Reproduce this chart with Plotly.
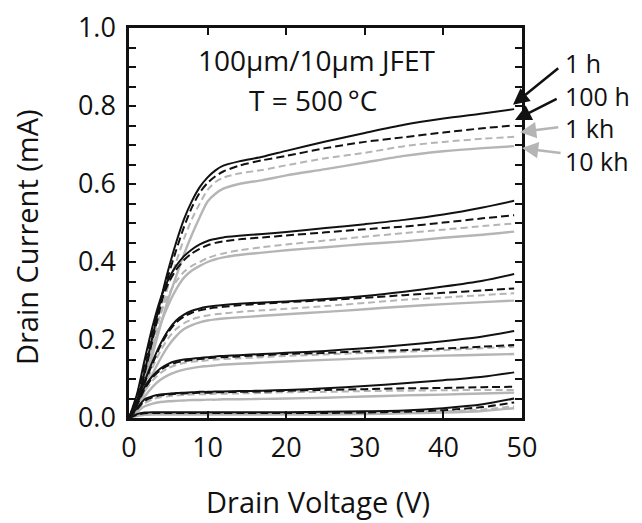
import plotly.graph_objects as go

# Drain voltage sample points (V)
vd = [0, 1, 2, 3, 4, 5, 6, 7, 8, 9, 10, 11, 12, 14, 17, 20, 25, 30, 35, 40, 45, 49]

# Drain current (mA): 6 gate-bias curves per aging time
i_1h = [
    [0, 0.04, 0.12, 0.21, 0.30, 0.38, 0.45, 0.51, 0.556, 0.592, 0.617, 0.635, 0.647, 0.658, 0.670, 0.685, 0.709, 0.731, 0.752, 0.768, 0.781, 0.792],
    [0, 0.06, 0.15, 0.235, 0.305, 0.355, 0.39, 0.415, 0.432, 0.445, 0.454, 0.459, 0.463, 0.467, 0.472, 0.477, 0.487, 0.497, 0.508, 0.522, 0.54, 0.557],
    [0, 0.045, 0.095, 0.145, 0.19, 0.225, 0.25, 0.265, 0.275, 0.281, 0.285, 0.288, 0.29, 0.293, 0.296, 0.299, 0.305, 0.313, 0.324, 0.337, 0.352, 0.369],
    [0, 0.035, 0.08, 0.108, 0.127, 0.139, 0.146, 0.15, 0.152, 0.154, 0.156, 0.158, 0.159, 0.161, 0.164, 0.167, 0.172, 0.179, 0.187, 0.197, 0.209, 0.223],
    [0, 0.025, 0.048, 0.056, 0.06, 0.062, 0.064, 0.065, 0.066, 0.067, 0.067, 0.068, 0.068, 0.069, 0.07, 0.072, 0.076, 0.082, 0.089, 0.097, 0.106, 0.117],
    [0, 0.01, 0.014, 0.015, 0.015, 0.015, 0.015, 0.015, 0.015, 0.015, 0.015, 0.015, 0.015, 0.015, 0.015, 0.015, 0.016, 0.017, 0.019, 0.025, 0.035, 0.05],
]
i_100h = [
    [0, 0.038, 0.115, 0.2, 0.285, 0.365, 0.43, 0.49, 0.54, 0.578, 0.603, 0.62, 0.632, 0.647, 0.661, 0.672, 0.692, 0.708, 0.72, 0.732, 0.743, 0.75],
    [0, 0.055, 0.14, 0.225, 0.295, 0.345, 0.38, 0.405, 0.422, 0.434, 0.443, 0.449, 0.453, 0.458, 0.463, 0.468, 0.476, 0.484, 0.491, 0.501, 0.512, 0.52],
    [0, 0.042, 0.09, 0.14, 0.185, 0.22, 0.245, 0.26, 0.27, 0.276, 0.28, 0.283, 0.285, 0.289, 0.293, 0.297, 0.302, 0.308, 0.315, 0.321, 0.327, 0.332],
    [0, 0.032, 0.075, 0.104, 0.123, 0.135, 0.142, 0.146, 0.149, 0.151, 0.153, 0.155, 0.156, 0.158, 0.161, 0.164, 0.167, 0.171, 0.174, 0.178, 0.183, 0.187],
    [0, 0.022, 0.044, 0.053, 0.058, 0.06, 0.062, 0.063, 0.064, 0.065, 0.065, 0.066, 0.066, 0.067, 0.068, 0.07, 0.072, 0.074, 0.076, 0.077, 0.079, 0.08],
    [0, 0.008, 0.012, 0.013, 0.013, 0.013, 0.013, 0.013, 0.013, 0.013, 0.013, 0.013, 0.013, 0.013, 0.013, 0.013, 0.013, 0.014, 0.016, 0.02, 0.028, 0.04],
]
i_1kh = [
    [0, 0.035, 0.105, 0.185, 0.265, 0.34, 0.40, 0.46, 0.51, 0.55, 0.585, 0.605, 0.616, 0.627, 0.636, 0.648, 0.666, 0.68, 0.697, 0.708, 0.716, 0.721],
    [0, 0.05, 0.125, 0.2, 0.265, 0.315, 0.35, 0.375, 0.39, 0.40, 0.41, 0.417, 0.422, 0.43, 0.438, 0.445, 0.455, 0.465, 0.474, 0.483, 0.492, 0.499],
    [0, 0.038, 0.083, 0.13, 0.172, 0.205, 0.228, 0.243, 0.253, 0.259, 0.263, 0.266, 0.268, 0.272, 0.276, 0.28, 0.287, 0.295, 0.303, 0.309, 0.315, 0.32],
    [0, 0.028, 0.068, 0.096, 0.115, 0.128, 0.136, 0.141, 0.144, 0.146, 0.148, 0.15, 0.151, 0.153, 0.156, 0.159, 0.163, 0.167, 0.17, 0.174, 0.179, 0.183],
    [0, 0.02, 0.038, 0.048, 0.053, 0.056, 0.058, 0.059, 0.06, 0.061, 0.061, 0.062, 0.062, 0.063, 0.064, 0.066, 0.067, 0.069, 0.07, 0.071, 0.072, 0.072],
    [0, 0.007, 0.01, 0.011, 0.011, 0.011, 0.011, 0.011, 0.011, 0.011, 0.011, 0.011, 0.011, 0.011, 0.011, 0.011, 0.011, 0.012, 0.014, 0.017, 0.022, 0.03],
]
i_10kh = [
    [0, 0.03, 0.09, 0.163, 0.237, 0.305, 0.363, 0.42, 0.47, 0.515, 0.555, 0.575, 0.588, 0.600, 0.610, 0.622, 0.638, 0.655, 0.672, 0.684, 0.692, 0.697],
    [0, 0.04, 0.105, 0.175, 0.24, 0.29, 0.33, 0.36, 0.378, 0.39, 0.4, 0.407, 0.412, 0.418, 0.424, 0.43, 0.438, 0.446, 0.453, 0.462, 0.47, 0.478],
    [0, 0.03, 0.07, 0.113, 0.152, 0.185, 0.21, 0.228, 0.238, 0.245, 0.25, 0.253, 0.255, 0.258, 0.262, 0.266, 0.272, 0.279, 0.286, 0.292, 0.297, 0.301],
    [0, 0.022, 0.055, 0.08, 0.098, 0.11, 0.118, 0.124, 0.128, 0.131, 0.133, 0.135, 0.137, 0.139, 0.142, 0.145, 0.149, 0.153, 0.157, 0.16, 0.162, 0.164],
    [0, 0.015, 0.03, 0.037, 0.041, 0.043, 0.044, 0.045, 0.046, 0.046, 0.047, 0.047, 0.048, 0.048, 0.049, 0.05, 0.052, 0.055, 0.058, 0.06, 0.063, 0.065],
    [0, 0.005, 0.008, 0.009, 0.009, 0.009, 0.009, 0.009, 0.009, 0.009, 0.009, 0.009, 0.009, 0.009, 0.009, 0.009, 0.009, 0.01, 0.012, 0.014, 0.018, 0.025],
]

series_labels = ["1 h", "100 h", "1 kh", "10 kh"]
x_ticks = [0, 10, 20, 30, 40, 50]
y_ticks = [0.0, 0.2, 0.4, 0.6, 0.8, 1.0]

BLACK = "#111111"
GRAY = "#b5b5b5"
FONT = "Open Sans"
FS = 27

styles = {
    "10 kh": dict(color=GRAY, width=2.4, dash="solid"),
    "1 kh": dict(color=GRAY, width=2.0, dash="7px,4px"),
    "100 h": dict(color=BLACK, width=2.0, dash="8px,4px"),
    "1 h": dict(color=BLACK, width=2.0, dash="solid"),
}
data_by_label = {"1 h": i_1h, "100 h": i_100h, "1 kh": i_1kh, "10 kh": i_10kh}

fig = go.Figure()
for lab in ["10 kh", "1 kh", "100 h", "1 h"]:
    for curve in data_by_label[lab]:
        fig.add_trace(go.Scatter(
            x=vd, y=curve, mode="lines",
            line=dict(shape="spline", smoothing=0.7, **styles[lab]),
            showlegend=False, hoverinfo="skip",
        ))

# arrows (heads at curve ends, tails beyond plot on the right)
arrow_specs = [
    (BLACK, 48.85, 0.803, 54.8, 0.90),
    (BLACK, 49.1, 0.764, 54.6, 0.82),
    (GRAY, 49.75, 0.733, 54.8, 0.746),
    (GRAY, 50.0, 0.692, 55.1, 0.679),
]
for col, hx, hy, tx, ty in arrow_specs:
    fig.add_annotation(x=hx, y=hy, ax=tx, ay=ty, xref="x", yref="y", axref="x", ayref="y",
                       showarrow=True, arrowhead=2, arrowsize=1.3, arrowwidth=2.5,
                       arrowcolor=col, text="")

# stacked aging-time labels as one text block
fig.add_annotation(x=1.108, y=0.785, xref="paper", yref="paper",
                   text="<br>".join(series_labels), showarrow=False,
                   xanchor="left", yanchor="middle", align="left", borderpad=0,
                   font=dict(family=FONT, size=25, color="#111111"))

fig.add_annotation(x=0.478, y=0.918, xref="paper", yref="paper", text="100\u03bcm/10\u03bcm JFET",
                   showarrow=False, xanchor="center", yanchor="middle",
                   font=dict(family=FONT, size=28, color="#111111"))
fig.add_annotation(x=0.468, y=0.815, xref="paper", yref="paper", text="T = 500\u2009\u00b0C",
                   showarrow=False, xanchor="center", yanchor="middle",
                   font=dict(family=FONT, size=28, color="#111111"))

# axis titles
fig.add_annotation(x=0.48, y=-0.213, xref="paper", yref="paper", text="Drain Voltage (V)",
                   showarrow=False, xanchor="center", yanchor="middle",
                   font=dict(family=FONT, size=29, color="#111111"))
fig.add_annotation(x=-0.262, y=0.464, xref="paper", yref="paper", text="Drain Current (mA)",
                   showarrow=False, textangle=-90, xanchor="center", yanchor="middle",
                   font=dict(family=FONT, size=29, color="#111111"))

fig.update_layout(
    width=634, height=515,
    margin=dict(l=121, r=120, t=20, b=105, autoexpand=False),
    paper_bgcolor="white", plot_bgcolor="white",
    font=dict(family=FONT, size=FS, color="#111111"),
    showlegend=False,
)
fig.update_xaxes(
    range=[0, 50], tickvals=x_ticks, ticktext=[str(v) for v in x_ticks],
    ticks="inside", ticklen=7, tickwidth=1.5, tickcolor="#111111",
    showline=True, linecolor="#111111", linewidth=2.5, mirror="ticks",
    showgrid=False, zeroline=False, ticklabelstandoff=4,
)
fig.update_yaxes(
    range=[0, 1.0], tickvals=y_ticks, ticktext=["%.1f" % v for v in y_ticks],
    ticks="inside", ticklen=7, tickwidth=1.5, tickcolor="#111111",
    minor=dict(dtick=0.05, ticks="inside", ticklen=7, tickwidth=1.5, tickcolor="#111111"),
    showline=True, linecolor="#111111", linewidth=2.5, mirror="ticks",
    showgrid=False, zeroline=False, ticklabelstandoff=5,
)

fig.write_html("out.html")
